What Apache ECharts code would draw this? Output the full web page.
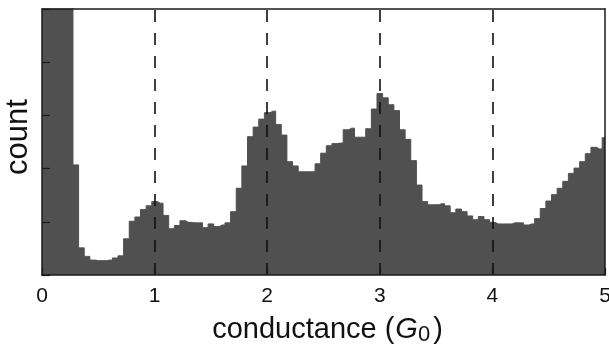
<!DOCTYPE html>
<html>
<head>
<meta charset="utf-8">
<script src="https://cdn.jsdelivr.net/npm/echarts@6/dist/echarts.min.js"></script>
<style>html,body{margin:0;padding:0;background:#fff}#c{width:609px;height:362px}</style>
</head>
<body>
<div id="c"></div>
<script>
// bin centres (G0)
var binCenters = [0.00,0.05,0.10,0.15,0.20,0.25,0.30,0.35,0.40,0.45,0.50,0.55,0.60,0.65,0.70,0.75,0.80,0.85,0.90,0.95,
1.00,1.05,1.10,1.15,1.20,1.25,1.30,1.35,1.40,1.45,1.50,1.55,1.60,1.65,1.70,1.75,1.80,1.85,1.90,1.95,
2.00,2.05,2.10,2.15,2.20,2.25,2.30,2.35,2.40,2.45,2.50,2.55,2.60,2.65,2.70,2.75,2.80,2.85,2.90,2.95,
3.00,3.05,3.10,3.15,3.20,3.25,3.30,3.35,3.40,3.45,3.50,3.55,3.60,3.65,3.70,3.75,3.80,3.85,3.90,3.95,
4.00,4.05,4.10,4.15,4.20,4.25,4.30,4.35,4.40,4.45,4.50,4.55,4.60,4.65,4.70,4.75,4.80,4.85,4.90,4.95,5.00];
// counts (arbitrary units, axis 0..5)
var counts = [10,10,10,10,10,10,2.07,0.51,0.35,0.28,0.27,0.27,0.28,0.32,0.36,0.68,1.01,1.09,1.23,1.30,
1.38,1.35,1.12,0.87,0.93,1.02,0.99,0.98,0.98,0.89,0.96,0.91,0.94,0.98,1.19,1.63,2.05,2.60,2.78,2.93,
3.05,3.08,2.83,2.63,2.13,2.05,1.94,1.94,1.94,2.09,2.29,2.43,2.47,2.48,2.73,2.76,2.59,2.59,2.75,3.12,
3.41,3.33,3.20,3.09,2.73,2.55,2.15,1.69,1.38,1.32,1.32,1.34,1.30,1.17,1.24,1.19,1.11,1.04,1.10,1.04,
0.99,0.96,0.96,0.96,0.98,0.98,0.94,0.96,1.06,1.25,1.39,1.51,1.63,1.76,1.91,2.01,2.13,2.28,2.40,2.37,2.58];
var xTicks = [0,1,2,3,4,5];
var guideLines = [1,2,3,4];

var FONT = '"Liberation Sans", Arial, Helvetica, sans-serif';
var AX = '#1a1a1a';
var FILL = '#505050';
var chart = echarts.init(document.getElementById('c'));
var data = binCenters.map(function(x, i){ return [x, counts[i]]; });
chart.setOption({
  animation: false,
  grid: {left: 42, right: 4, top: 9, bottom: 87, containLabel: false, outerBoundsMode: 'none'},
  xAxis: [{
    type: 'value', min: 0, max: 5, interval: 1, position: 'bottom', z: 10,
    axisLine: {show: true, onZero: false, lineStyle: {color: AX, width: 1.5}},
    axisTick: {show: true, inside: true, length: 7, lineStyle: {color: AX, width: 1.2}},
    axisLabel: {show: true, fontSize: 21, color: '#111', fontFamily: FONT, margin: 11,
      formatter: function(v){ return xTicks.indexOf(v) >= 0 ? String(v) : ''; }},
    splitLine: {show: false},
    name: '{p|conductance (}{i|G}{s|0}{a|)}',
    nameLocation: 'middle', nameGap: 40, nameMoveOverlap: false,
    nameTextStyle: {
      fontFamily: FONT, color: '#111',
      rich: {
        p: {fontSize: 29, fontFamily: FONT, color: '#111', lineHeight: 31, verticalAlign: 'top', padding: [0,0,0,8]},
        a: {fontSize: 29, fontFamily: FONT, color: '#111', lineHeight: 31, verticalAlign: 'top'},
        i: {fontSize: 29, fontFamily: FONT, color: '#111', fontStyle: 'italic', lineHeight: 31, verticalAlign: 'top', padding: [0,0,0,1]},
        s: {fontSize: 22, fontFamily: FONT, color: '#111', lineHeight: 22, padding: [23,3,0,0], verticalAlign: 'bottom'}
      }
    }
  }, {
    type: 'value', min: 0, max: 5, interval: 1, position: 'top', z: 10,
    axisLine: {show: true, onZero: false, lineStyle: {color: AX, width: 1.5}},
    axisTick: {show: false}, axisLabel: {show: false}, splitLine: {show: false}
  }],
  yAxis: [{
    type: 'value', min: 0, max: 5, interval: 1, position: 'left', z: 10,
    axisLine: {show: true, onZero: false, lineStyle: {color: AX, width: 1.5}},
    axisTick: {show: true, inside: true, length: 8, lineStyle: {color: AX, width: 1.2}},
    axisLabel: {show: false}, splitLine: {show: false},
    name: 'count', nameLocation: 'middle', nameGap: 8,
    nameTextStyle: {fontSize: 31, fontFamily: FONT, color: '#111', padding: [0,0,0,10]}
  }, {
    type: 'value', min: 0, max: 5, interval: 1, position: 'right', z: 10,
    axisLine: {show: true, onZero: false, lineStyle: {color: AX, width: 1.5}},
    axisTick: {show: false}, axisLabel: {show: false}, splitLine: {show: false}
  }],
  series: [{
    type: 'line', step: 'middle', data: data, xAxisIndex: 0, yAxisIndex: 0,
    symbol: 'none', clip: true, z: 2,
    lineStyle: {color: FILL, width: 1},
    areaStyle: {color: FILL, opacity: 1},
    markLine: {
      silent: true, symbol: ['none', 'none'], animation: false,
      label: {show: false},
      lineStyle: {color: '#111', width: 1.6, type: [12, 11]},
      data: guideLines.map(function(v){ return {xAxis: v}; })
    }
  }]
});
</script>
</body>
</html>
